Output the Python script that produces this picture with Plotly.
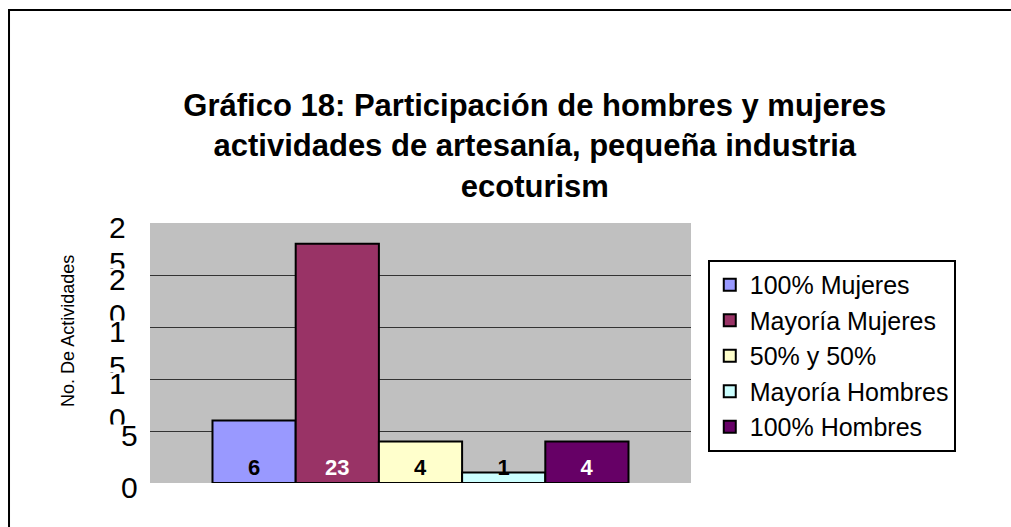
import plotly.graph_objects as go

# ---- data ----
category = ["Artesanía, pequeña industria y ecoturismo"]
series_names = ["100% Mujeres", "Mayoría Mujeres", "50% y 50%", "Mayoría Hombres", "100% Hombres"]
series_values = [6, 23, 4, 1, 4]
series_colors = ["#9999FF", "#993366", "#FFFFCC", "#CCFFFF", "#660066"]
label_colors = ["#000000", "#FFFFFF", "#000000", "#000000", "#FFFFFF"]
y_tick_values = [0, 5, 10, 15, 20, 25]
y_tick_labels = ["0", "5", "10", "15", "20", "25"]
title_lines = ["Gráfico 18: Participación de hombres y mujeres",
               "actividades de artesanía, pequeña industria",
               "ecoturism"]
y_title = "No. De Actividades"

FONT = "Liberation Sans, Arial, sans-serif"

fig = go.Figure()
for name, val, col, lc in zip(series_names, series_values, series_colors, label_colors):
    fig.add_trace(go.Bar(
        x=category, y=[val], name=name,
        marker=dict(color=col, line=dict(color="black", width=2)),
        text=[str(val)], textposition="inside", insidetextanchor="start",
        constraintext="none", textangle=0,
        textfont=dict(family=FONT, size=22, color=lc, weight="bold"),
        cliponaxis=False,
    ))

# y tick labels drawn as wrapped (Excel-like) text
annos = []
TICK_FONT = dict(family=FONT, size=30, color="black")
# second lines first
for v, s in zip(y_tick_values, y_tick_labels):
    if len(s) > 1:
        annos.append(dict(text=s[1], xref="paper", x=0, xanchor="center", xshift=-33,
                          yref="y", y=v, yanchor="middle", yshift=-39,
                          showarrow=False, font=TICK_FONT))
# covers (white) – top of each label box below
for v, s in zip(y_tick_values, y_tick_labels):
    if v != max(y_tick_values):
        annos.append(dict(text=" ", xref="paper", x=0, xanchor="center", xshift=-30,
                          yref="y", y=v, yanchor="top", yshift=7,
                          width=34, height=16, bgcolor="white", borderpad=0,
                          showarrow=False, font=dict(size=4)))
# first lines
for v, s in zip(y_tick_values, y_tick_labels):
    annos.append(dict(text=s[0], xref="paper", x=0, xanchor="center",
                      xshift=-33 if len(s) > 1 else -21,
                      yref="y", y=v, yanchor="middle", yshift=-4,
                      showarrow=False, font=TICK_FONT))

annos.append(dict(text=y_title, xref="paper", x=0, xanchor="center", xshift=-82,
                  yref="paper", y=0.585, yanchor="middle", textangle=-90,
                  showarrow=False, font=dict(family=FONT, size=18, color="black")))

fig.update_layout(
    width=1011, height=527, autosize=False,
    margin=dict(l=150, r=320, t=223, b=44),
    paper_bgcolor="white", plot_bgcolor="#C0C0C0",
    barmode="group", bargap=0.231, bargroupgap=0,
    title=dict(text="<b>" + "<br>".join(title_lines) + "</b>",
               x=0.529, xref="container", xanchor="center",
               y=1 - 116 / 527, yref="container", yanchor="top",
               font=dict(family=FONT, size=31, color="black")),
    xaxis=dict(showticklabels=False, showgrid=False, zeroline=False, showline=False, ticks=""),
    yaxis=dict(range=[0, 25], tickvals=y_tick_values[1:-1], showticklabels=False,
               showgrid=True, gridcolor="#333333", gridwidth=1,
               zeroline=False, showline=False, ticks=""),
    legend=dict(x=1.031, xanchor="left", y=0.8577, yanchor="top",
                bgcolor="white", bordercolor="black", borderwidth=2,
                font=dict(family=FONT, size=25, color="black"),
                traceorder="normal", itemwidth=30),
    annotations=annos,
    shapes=[dict(type="rect", xref="paper", yref="paper",
                 x0=-0.2606, x1=2.0, y0=-1.0, y1=1.8192,
                 line=dict(color="black", width=2), fillcolor="rgba(0,0,0,0)",
                 layer="below")],
    showlegend=True,
)

fig.write_html("out.html", config={"displayModeBar": False},
               post_script="document.body.style.margin='0';document.body.style.padding='0';document.body.style.overflow='hidden';")
